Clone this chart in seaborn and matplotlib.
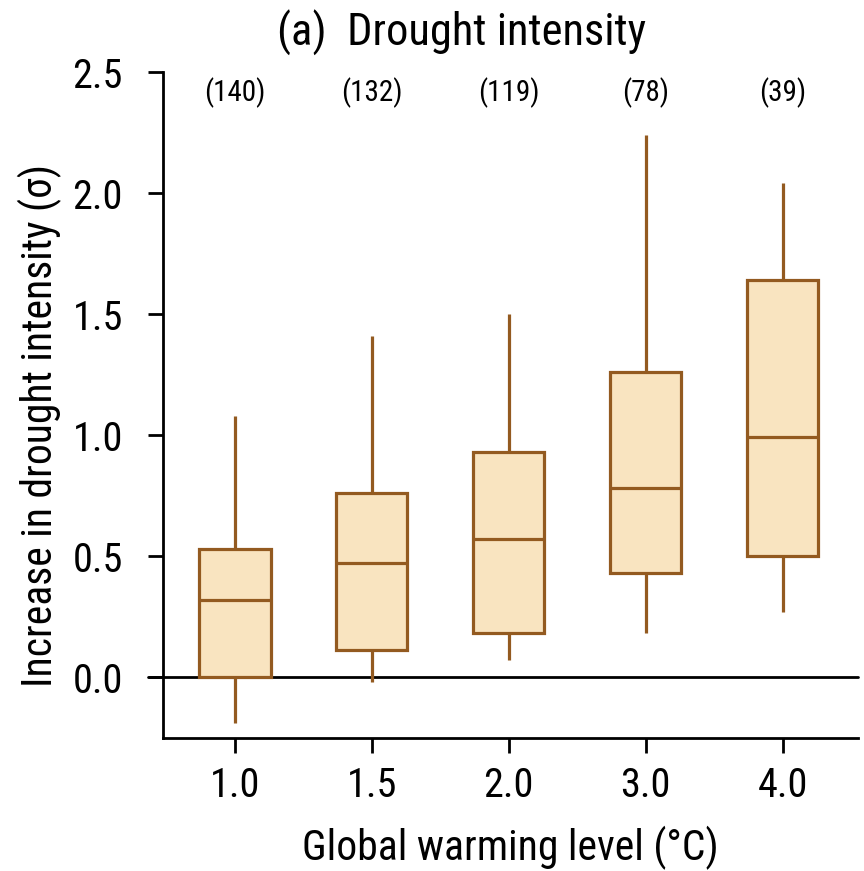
import numpy as np
import pandas as pd
import matplotlib
matplotlib.use("Agg")
import matplotlib.pyplot as plt
import seaborn as sns

levels = ["1.0", "1.5", "2.0", "3.0", "4.0"]
counts = [140, 132, 119, 78, 39]
whisker_low = [-0.19, -0.02, 0.07, 0.18, 0.27]
q1 = [0.00, 0.11, 0.18, 0.43, 0.50]
median = [0.32, 0.47, 0.57, 0.78, 0.99]
q3 = [0.53, 0.76, 0.93, 1.26, 1.64]
whisker_high = [1.08, 1.41, 1.50, 2.24, 2.04]
ytick_vals = [0.0, 0.5, 1.0, 1.5, 2.0, 2.5]
ytick_labels = ["0.0", "0.5", "1.0", "1.5", "2.0", "2.5"]

rows = []
for i, lv in enumerate(levels):
    for v in (whisker_low[i], q1[i], median[i], q3[i], whisker_high[i]):
        rows.append({"level": lv, "value": v})
df = pd.DataFrame(rows)

sns.set_style("ticks")
plt.rcParams["font.family"] = ["Roboto Condensed", "DejaVu Sans"]
plt.rcParams["text.color"] = "black"
plt.rcParams["axes.labelcolor"] = "black"
plt.rcParams["xtick.color"] = "black"
plt.rcParams["ytick.color"] = "black"

fig = plt.figure(figsize=(8.64, 8.71), dpi=100)
ax = fig.add_axes([0.1887, 0.1527, 0.8043, 0.7646])

edge = "#935A20"
fill = "#F9E4C0"
ax.axhline(0, color="black", lw=2, zorder=0, xmin=-0.022, clip_on=False)
sns.boxplot(data=df, x="level", y="value", order=levels, whis=np.inf,
            width=0.52, color=fill, linecolor=edge, linewidth=2.3,
            showcaps=False, ax=ax,
            boxprops=dict(facecolor=fill, edgecolor=edge),
            medianprops=dict(color=edge, linewidth=2.3),
            whiskerprops=dict(color=edge, linewidth=2.3))

ax.set_xlim(-0.525, 4.55)
ax.set_ylim(-0.252, 2.5)
ax.set_yticks(ytick_vals)
ax.set_yticklabels(ytick_labels)
for i, n in enumerate(counts):
    ax.text(i, 2.415, f"({n})", ha="center", va="center", fontsize=21)

ax.set_xlabel("Global warming level (°C)", fontsize=30)
ax.set_ylabel("Increase in drought intensity (σ)", fontsize=30)
ax.xaxis.set_label_coords(0.5, -0.165)
ax.xaxis.label.set_verticalalignment("center")
ax.yaxis.set_label_coords(-0.177, 0.47)
ax.yaxis.label.set_verticalalignment("center")
fig.text(462 / 864, 1 - 33 / 871, "(a)  Drought intensity", ha="center", va="center", fontsize=32)

ax.tick_params(axis="both", labelsize=29, width=2, length=11, color="black")
ax.tick_params(axis="x", pad=9)
ax.tick_params(axis="y", pad=18)
sns.despine(ax=ax)
for s in ("left", "bottom"):
    ax.spines[s].set_linewidth(2)
    ax.spines[s].set_color("black")

fig.savefig("out.png", dpi=100)
